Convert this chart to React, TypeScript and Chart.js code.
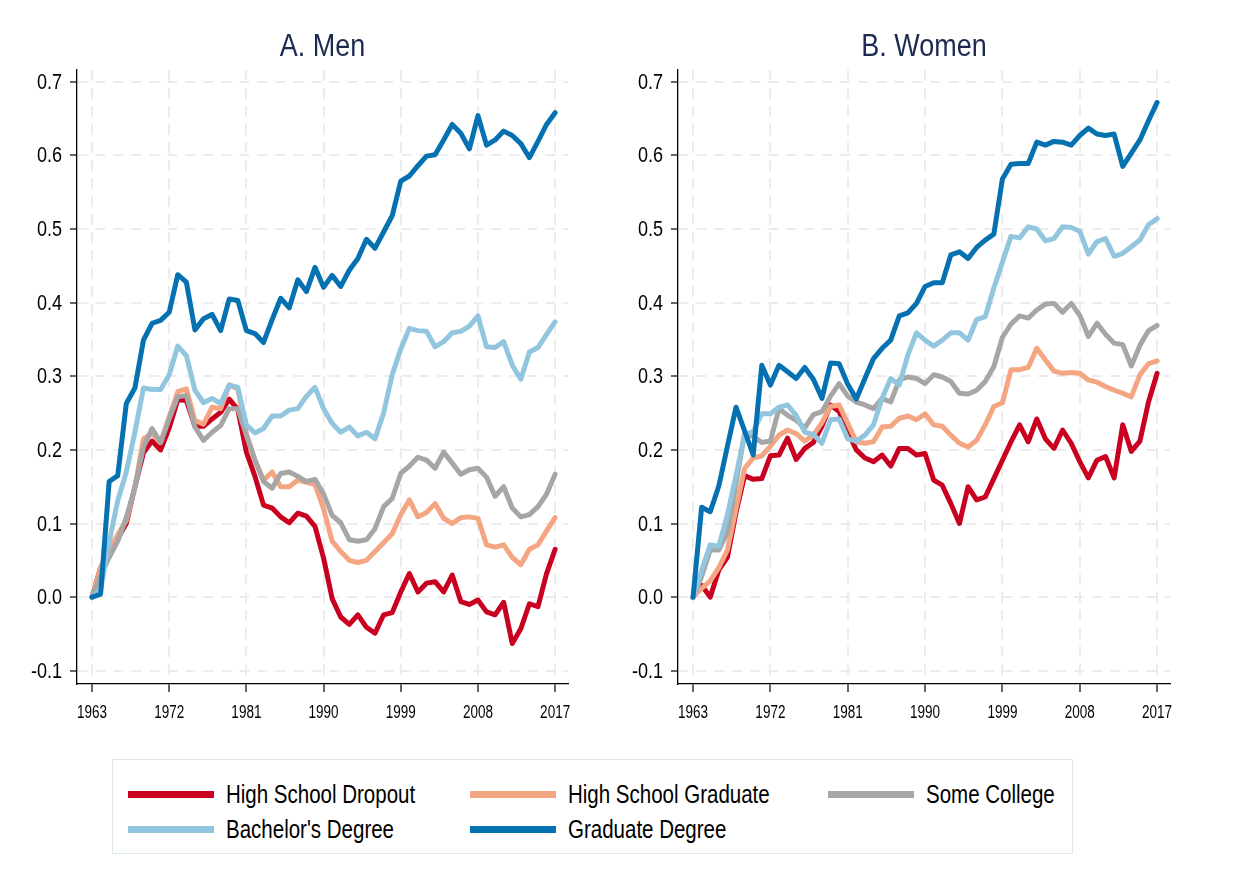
import React, { useEffect, useRef } from "react";
import { Chart, registerables } from "chart.js";

Chart.register(...registerables);

const LABEL_FONT = "'Liberation Sans', Arial, Helvetica, sans-serif";
const TITLE_COLOR = "#1c2a50";

const YEARS = [
  1963, 1964, 1965, 1966, 1967, 1968, 1969, 1970, 1971, 1972,
  1973, 1974, 1975, 1976, 1977, 1978, 1979, 1980, 1981, 1982,
  1983, 1984, 1985, 1986, 1987, 1988, 1989, 1990, 1991, 1992,
  1993, 1994, 1995, 1996, 1997, 1998, 1999, 2000, 2001, 2002,
  2003, 2004, 2005, 2006, 2007, 2008, 2009, 2010, 2011, 2012,
  2013, 2014, 2015, 2016, 2017,
];

const X_TICKS = [1963, 1972, 1981, 1990, 1999, 2008, 2017];
const Y_TICKS = [-0.1, 0.0, 0.1, 0.2, 0.3, 0.4, 0.5, 0.6, 0.7];

const SERIES_NAMES = [
  "High School Dropout",
  "High School Graduate",
  "Some College",
  "Bachelor's Degree",
  "Graduate Degree",
];
const SERIES_COLORS = ["#ca0020", "#f4a582", "#a6a6a6", "#92c5de", "#0571b0"];

// ---- A. Men ----
const MEN_DROPOUT = [
  0.0, 0.04, 0.06, 0.08, 0.10, 0.15, 0.196, 0.212, 0.200, 0.230,
  0.268, 0.267, 0.232, 0.232, 0.242, 0.251, 0.269, 0.255, 0.197, 0.164,
  0.125, 0.121, 0.109, 0.101, 0.114, 0.110, 0.096, 0.053, -0.002, -0.027,
  -0.037, -0.024, -0.041, -0.049, -0.024, -0.021, 0.007, 0.032, 0.007, 0.019,
  0.021, 0.007, 0.030, -0.006, -0.010, -0.004, -0.020, -0.024, -0.007, -0.063,
  -0.043, -0.009, -0.013, 0.032, 0.065,
];
const MEN_HSGRAD = [
  0.0, 0.04, 0.063, 0.085, 0.104, 0.149, 0.215, 0.222, 0.210, 0.245,
  0.279, 0.283, 0.240, 0.235, 0.258, 0.256, 0.288, 0.283, 0.222, 0.186,
  0.159, 0.170, 0.150, 0.150, 0.159, 0.156, 0.153, 0.120, 0.076, 0.062,
  0.050, 0.047, 0.050, 0.062, 0.074, 0.086, 0.112, 0.132, 0.109, 0.115,
  0.127, 0.107, 0.100, 0.108, 0.109, 0.107, 0.071, 0.068, 0.071, 0.054,
  0.044, 0.065, 0.071, 0.090, 0.108,
];
const MEN_SOMECOL = [
  0.0, 0.03, 0.054, 0.076, 0.108, 0.149, 0.204, 0.229, 0.210, 0.242,
  0.272, 0.274, 0.231, 0.213, 0.224, 0.233, 0.256, 0.256, 0.220, 0.186,
  0.157, 0.148, 0.168, 0.170, 0.164, 0.157, 0.160, 0.140, 0.111, 0.101,
  0.078, 0.076, 0.078, 0.093, 0.123, 0.134, 0.168, 0.178, 0.190, 0.186,
  0.175, 0.197, 0.182, 0.167, 0.173, 0.175, 0.163, 0.137, 0.150, 0.121,
  0.109, 0.112, 0.123, 0.140, 0.167,
];
const MEN_BACHELOR = [
  0.0, 0.01, 0.075, 0.131, 0.170, 0.224, 0.284, 0.282, 0.282, 0.302,
  0.341, 0.328, 0.281, 0.264, 0.270, 0.263, 0.288, 0.285, 0.234, 0.223,
  0.229, 0.246, 0.246, 0.254, 0.256, 0.273, 0.285, 0.256, 0.236, 0.224,
  0.231, 0.219, 0.224, 0.215, 0.250, 0.302, 0.337, 0.365, 0.362, 0.361,
  0.340, 0.347, 0.359, 0.361, 0.368, 0.382, 0.340, 0.339, 0.347, 0.315,
  0.296, 0.333, 0.339, 0.357, 0.374,
];
const MEN_GRADUATE = [
  0.0, 0.004, 0.157, 0.165, 0.263, 0.284, 0.349, 0.372, 0.376, 0.387,
  0.438, 0.428, 0.363, 0.378, 0.384, 0.362, 0.405, 0.403, 0.362, 0.358,
  0.346, 0.377, 0.406, 0.393, 0.431, 0.415, 0.448, 0.421, 0.437, 0.422,
  0.444, 0.460, 0.486, 0.474, 0.496, 0.518, 0.565, 0.572, 0.586, 0.599,
  0.601, 0.621, 0.642, 0.630, 0.609, 0.654, 0.614, 0.621, 0.633, 0.627,
  0.616, 0.597, 0.619, 0.642, 0.658,
];

// ---- B. Women ----
const WOMEN_DROPOUT = [
  0.0, 0.016, 0.0, 0.037, 0.054, 0.115, 0.165, 0.160, 0.161, 0.192,
  0.193, 0.216, 0.187, 0.202, 0.210, 0.232, 0.261, 0.252, 0.225, 0.200,
  0.189, 0.184, 0.193, 0.178, 0.202, 0.202, 0.193, 0.195, 0.159, 0.152,
  0.127, 0.100, 0.150, 0.132, 0.136, 0.161, 0.186, 0.211, 0.234, 0.211,
  0.242, 0.215, 0.202, 0.227, 0.209, 0.184, 0.162, 0.186, 0.191, 0.162,
  0.234, 0.198, 0.212, 0.265, 0.304,
];
const WOMEN_HSGRAD = [
  0.0, 0.012, 0.022, 0.040, 0.064, 0.120, 0.175, 0.189, 0.192, 0.205,
  0.220, 0.227, 0.222, 0.212, 0.220, 0.237, 0.259, 0.261, 0.236, 0.211,
  0.209, 0.211, 0.231, 0.232, 0.243, 0.246, 0.241, 0.249, 0.234, 0.232,
  0.220, 0.209, 0.204, 0.213, 0.234, 0.259, 0.264, 0.309, 0.309, 0.312,
  0.338, 0.322, 0.307, 0.304, 0.305, 0.304, 0.295, 0.292, 0.286, 0.281,
  0.277, 0.272, 0.302, 0.317, 0.321,
];
const WOMEN_SOMECOL = [
  0.0, 0.028, 0.064, 0.064, 0.088, 0.155, 0.223, 0.218, 0.210, 0.212,
  0.256, 0.247, 0.240, 0.230, 0.248, 0.252, 0.273, 0.290, 0.273, 0.265,
  0.261, 0.256, 0.270, 0.265, 0.295, 0.299, 0.297, 0.290, 0.302, 0.299,
  0.293, 0.277, 0.276, 0.281, 0.293, 0.313, 0.353, 0.371, 0.382, 0.379,
  0.390, 0.398, 0.399, 0.387, 0.399, 0.383, 0.354, 0.372, 0.357, 0.345,
  0.343, 0.314, 0.342, 0.362, 0.369,
];
const WOMEN_BACHELOR = [
  0.0, 0.036, 0.071, 0.069, 0.112, 0.165, 0.220, 0.225, 0.249, 0.249,
  0.258, 0.261, 0.247, 0.224, 0.221, 0.209, 0.241, 0.242, 0.215, 0.212,
  0.220, 0.234, 0.270, 0.297, 0.288, 0.329, 0.359, 0.349, 0.341, 0.349,
  0.359, 0.359, 0.349, 0.377, 0.381, 0.420, 0.455, 0.490, 0.488, 0.503,
  0.500, 0.484, 0.487, 0.503, 0.502, 0.497, 0.466, 0.483, 0.487, 0.463,
  0.467, 0.476, 0.485, 0.506, 0.514,
];
const WOMEN_GRADUATE = [
  0.0, 0.122, 0.116, 0.151, 0.205, 0.258, 0.226, 0.193, 0.315, 0.288,
  0.315, 0.306, 0.297, 0.312, 0.296, 0.270, 0.318, 0.317, 0.289, 0.269,
  0.297, 0.324, 0.338, 0.349, 0.382, 0.386, 0.399, 0.422, 0.427, 0.427,
  0.465, 0.469, 0.460, 0.475, 0.485, 0.493, 0.568, 0.588, 0.589, 0.589,
  0.618, 0.614, 0.619, 0.618, 0.614, 0.627, 0.637, 0.629, 0.627, 0.629,
  0.585, 0.603, 0.621, 0.647, 0.672,
];

const MEN_SERIES = [MEN_DROPOUT, MEN_HSGRAD, MEN_SOMECOL, MEN_BACHELOR, MEN_GRADUATE];
const WOMEN_SERIES = [WOMEN_DROPOUT, WOMEN_HSGRAD, WOMEN_SOMECOL, WOMEN_BACHELOR, WOMEN_GRADUATE];

const CANVAS_W = 600;
const CANVAS_H = 740;

// Draws the tick labels and the panel title in a condensed (horizontally
// scaled) sans-serif, positioned from the chart's own scales.
const condensedLabels = {
  id: "condensedLabels",
  afterDraw(chart: any, _args: any, opts: any) {
    const ctx = chart.ctx as CanvasRenderingContext2D;
    const area = chart.chartArea;
    const xs = chart.scales.x;
    const ys = chart.scales.y;
    ctx.save();
    ctx.fillStyle = "#000";

    ctx.font = `22px ${LABEL_FONT}`;
    ctx.textAlign = "right";
    ctx.textBaseline = "middle";
    Y_TICKS.forEach((v) => {
      const y = ys.getPixelForValue(v);
      ctx.save();
      ctx.translate(area.left - 15, y + 1);
      ctx.scale(0.82, 1);
      ctx.fillText(v.toFixed(1), 0, 0);
      ctx.restore();
    });

    ctx.font = `18px ${LABEL_FONT}`;
    ctx.textAlign = "center";
    ctx.textBaseline = "middle";
    X_TICKS.forEach((v) => {
      const x = xs.getPixelForValue(v);
      ctx.save();
      ctx.translate(x, area.bottom + 29);
      ctx.scale(0.75, 1);
      ctx.fillText(String(v), 0, 0);
      ctx.restore();
    });

    if (opts && opts.title) {
      ctx.fillStyle = TITLE_COLOR;
      ctx.font = `31px ${LABEL_FONT}`;
      ctx.textAlign = "center";
      ctx.textBaseline = "middle";
      ctx.save();
      ctx.translate((area.left + area.right) / 2, 47);
      ctx.scale(0.87, 1);
      ctx.fillText(opts.title, 0, 0);
      ctx.restore();
    }
    ctx.restore();
  },
};

function Panel(props: { title: string; series: number[][]; left: number; padRight: number }) {
  const ref = useRef<HTMLCanvasElement | null>(null);
  useEffect(() => {
    if (!ref.current) return;
    const n = props.series.length;
    const chart = new Chart(ref.current, {
      type: "line",
      data: {
        datasets: props.series.map((vals, i) => ({
          label: SERIES_NAMES[i],
          data: YEARS.map((yr, j) => ({ x: yr, y: vals[j] })),
          borderColor: SERIES_COLORS[i],
          backgroundColor: SERIES_COLORS[i],
          borderWidth: 5,
          pointRadius: 0,
          pointHoverRadius: 0,
          tension: 0,
          fill: false,
          borderJoinStyle: "round",
          borderCapStyle: "round",
          order: n - i,
        })),
      },
      plugins: [condensedLabels],
      options: {
        animation: false,
        responsive: false,
        devicePixelRatio: 1,
        events: [],
        layout: { padding: { left: 0, right: props.padRight, top: 70, bottom: 0 } },
        plugins: {
          legend: { display: false },
          tooltip: { enabled: false },
          title: { display: false },
          condensedLabels: { title: props.title },
        },
        scales: {
          x: {
            type: "linear",
            min: 1961.25,
            max: 2018.5,
            afterBuildTicks: (s: any) => {
              s.ticks = X_TICKS.map((v) => ({ value: v }));
            },
            afterFit: (s: any) => {
              s.height = 56;
            },
            ticks: { display: false, autoSkip: false },
            grid: {
              color: "#ececec",
              lineWidth: 2,
              tickColor: "#000",
              tickLength: 8,
              tickWidth: 1.2,
            },
            border: { display: true, color: "#000", width: 1.3, dash: [11, 7] },
          },
          y: {
            type: "linear",
            min: -0.118,
            max: 0.716,
            afterBuildTicks: (s: any) => {
              s.ticks = Y_TICKS.map((v) => ({ value: v }));
            },
            afterFit: (s: any) => {
              s.width = 77;
            },
            ticks: { display: false, autoSkip: false },
            grid: {
              color: "#ececec",
              lineWidth: 2,
              tickColor: "#000",
              tickLength: 7,
              tickWidth: 1.2,
            },
            border: { display: true, color: "#000", width: 1.3, dash: [10, 8] },
          },
        },
      },
    } as any);
    return () => chart.destroy();
  }, []);
  return (
    <canvas
      ref={ref}
      width={CANVAS_W}
      height={CANVAS_H}
      style={{ position: "absolute", left: props.left, top: 0, width: CANVAS_W, height: CANVAS_H }}
    />
  );
}

const LEGEND_LAYOUT = [
  { row: 0, col: 0 },
  { row: 0, col: 1 },
  { row: 0, col: 2 },
  { row: 1, col: 0 },
  { row: 1, col: 1 },
];
const COL_X = [15, 357, 715];
const ROW_Y = [34, 69];

export default function App() {
  return (
    <div
      style={{
        position: "absolute",
        left: 0,
        top: 0,
        width: 1250,
        height: 876,
        background: "#fff",
        overflow: "hidden",
      }}
    >
      <Panel title="A. Men" series={MEN_SERIES} left={0} padRight={32} />
      <Panel title="B. Women" series={WOMEN_SERIES} left={601} padRight={31} />
      <div
        style={{
          position: "absolute",
          left: 112,
          top: 759,
          width: 961,
          height: 95,
          border: "1.5px solid #dde8ec",
          boxSizing: "border-box",
          background: "#fff",
        }}
      >
        {SERIES_NAMES.map((name, i) => {
          const pos = LEGEND_LAYOUT[i];
          const x = COL_X[pos.col];
          const y = ROW_Y[pos.row];
          return (
            <React.Fragment key={name}>
              <div
                style={{
                  position: "absolute",
                  left: x,
                  top: y - 3.5,
                  width: 86,
                  height: 7,
                  background: SERIES_COLORS[i],
                }}
              />
              <div
                style={{
                  position: "absolute",
                  left: x + 98,
                  top: y - 15,
                  height: 30,
                  lineHeight: "30px",
                  fontFamily: LABEL_FONT,
                  fontSize: 25,
                  color: "#000",
                  whiteSpace: "nowrap",
                  transform: "scaleX(0.82)",
                  transformOrigin: "0 50%",
                }}
              >
                {name}
              </div>
            </React.Fragment>
          );
        })}
      </div>
    </div>
  );
}
